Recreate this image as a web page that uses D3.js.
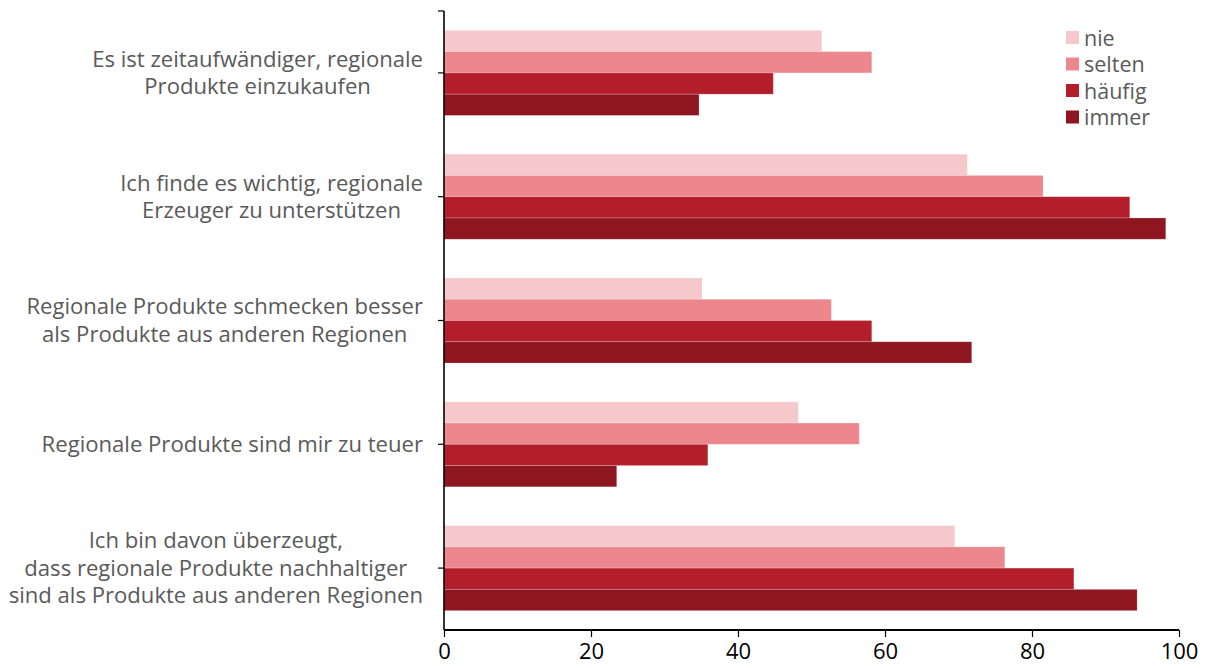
<!DOCTYPE html>
<html>
<head>
    <meta charset="utf-8" />
    <title>Regionale Produkte</title>
    <script src="https://d3js.org/d3.v7.min.js"></script>
    <style>
        body { margin: 0; background: #fff; }
        svg { font-family: "Open Sans", sans-serif; }
    </style>
</head>
<body>
    <svg id="chart" width="1207" height="668"></svg>
    <script>
        // statements (y categories), one entry per line of label
        var categories = [
            ["Es ist zeitaufwändiger, regionale", "Produkte einzukaufen"],
            ["Ich finde es wichtig, regionale", "Erzeuger zu unterstützen"],
            ["Regionale Produkte schmecken besser", "als Produkte aus anderen Regionen"],
            ["Regionale Produkte sind mir zu teuer"],
            ["Ich bin davon überzeugt,", "dass regionale Produkte nachhaltiger", "sind als Produkte aus anderen Regionen"]
        ];
        var seriesNames = ["nie", "selten", "häufig", "immer"];
        var seriesColors = ["#f5c9cc", "#ec878d", "#b41e2b", "#8e1620"];

        var nie    = [51.4, 71.2, 35.1, 48.2, 69.5];
        var selten = [58.2, 81.5, 52.7, 56.5, 76.3];
        var haeufig = [44.8, 93.3, 58.2, 35.9, 85.7];
        var immer  = [34.7, 98.2, 71.8, 23.5, 94.3];
        var xTicks = [0, 20, 40, 60, 80, 100];

        var series = [nie, selten, haeufig, immer];

        var svg = d3.select("#chart");
        var mLeft = 444, mRight = 1179, mTop = 11, mBottom = 630;

        var x = d3.scaleLinear().domain([0, 100]).range([mLeft, mRight]);
        var y = d3.scaleBand()
            .domain(d3.range(categories.length))
            .range([mTop, mBottom])
            .paddingInner(0.313)
            .paddingOuter(0.1565);
        var y1 = d3.scaleBand()
            .domain(d3.range(seriesNames.length))
            .range([0, y.bandwidth()]);

        // bars
        var groups = svg.selectAll("g.group")
            .data(categories)
            .enter().append("g")
            .attr("class", "group")
            .attr("transform", function (d, i) { return "translate(0," + y(i) + ")"; });

        groups.selectAll("rect")
            .data(function (d, i) {
                return series.map(function (s, k) { return { k: k, v: s[i] }; });
            })
            .enter().append("rect")
            .attr("x", x(0))
            .attr("y", function (d) { return y1(d.k); })
            .attr("width", function (d) { return x(d.v) - x(0); })
            .attr("height", y1.bandwidth())
            .attr("fill", function (d) { return seriesColors[d.k]; })
            .attr("stroke", "rgba(255,255,255,0.25)")
            .attr("stroke-width", 0.8);

        // x axis
        var xAxis = svg.append("g")
            .attr("transform", "translate(0," + mBottom + ")")
            .call(d3.axisBottom(x).tickValues(xTicks).tickSize(7).tickPadding(6));
        xAxis.select(".domain").attr("stroke", "#000").attr("stroke-width", 2)
            .attr("d", "M" + mLeft + ",0H" + mRight);
        xAxis.selectAll(".tick line").attr("stroke", "#000").attr("stroke-width", 1.2);
        xAxis.selectAll(".tick text")
            .attr("fill", "#000")
            .style("font-size", "22px")
            .style("font-family", "'Open Sans', sans-serif");

        // y axis
        var yAxisLine = svg.append("g");
        yAxisLine.append("line")
            .attr("x1", mLeft).attr("x2", mLeft)
            .attr("y1", mTop).attr("y2", mBottom)
            .attr("stroke", "#000").attr("stroke-width", 1.6);
        yAxisLine.append("line")
            .attr("x1", mLeft - 6).attr("x2", mLeft)
            .attr("y1", mTop).attr("y2", mTop)
            .attr("stroke", "#000").attr("stroke-width", 1.2);
        yAxisLine.selectAll("line.tick")
            .data(categories)
            .enter().append("line")
            .attr("class", "tick")
            .attr("x1", mLeft - 6).attr("x2", mLeft)
            .attr("y1", function (d, i) { return y(i) + y.bandwidth() / 2; })
            .attr("y2", function (d, i) { return y(i) + y.bandwidth() / 2; })
            .attr("stroke", "#000").attr("stroke-width", 1.2);

        // category labels: centred lines, block right-aligned at labelRight
        var lineH = 27.5, labelRight = 423;
        svg.selectAll("text.cat")
            .data(categories)
            .enter().append("text")
            .attr("class", "cat")
            .attr("text-anchor", "middle")
            .attr("fill", "#5a5a5a")
            .style("font-size", "22.1px")
            .each(function (d, i) {
                var cy = y(i) + y.bandwidth() / 2;
                var t = d3.select(this);
                var spans = d.map(function (line, j) {
                    return t.append("tspan")
                        .attr("y", cy + (j - (d.length - 1) / 2) * lineH)
                        .attr("dy", "0.35em")
                        .text(line);
                });
                var maxW = d3.max(spans, function (s) { return s.node().getComputedTextLength(); });
                spans.forEach(function (s) { s.attr("x", labelRight - maxW / 2); });
            });

        // legend
        var legend = svg.append("g").attr("transform", "translate(1066,31)");
        var items = legend.selectAll("g")
            .data(seriesNames)
            .enter().append("g")
            .attr("transform", function (d, i) { return "translate(0," + i * 26.5 + ")"; });
        items.append("rect")
            .attr("width", 13).attr("height", 13)
            .attr("fill", function (d, i) { return seriesColors[i]; });
        items.append("text")
            .attr("x", 18).attr("y", 7)
            .attr("dy", "0.35em")
            .attr("fill", "#5a5a5a")
            .style("font-size", "21.5px")
            .text(function (d) { return d; });
    </script>
</body>
</html>
